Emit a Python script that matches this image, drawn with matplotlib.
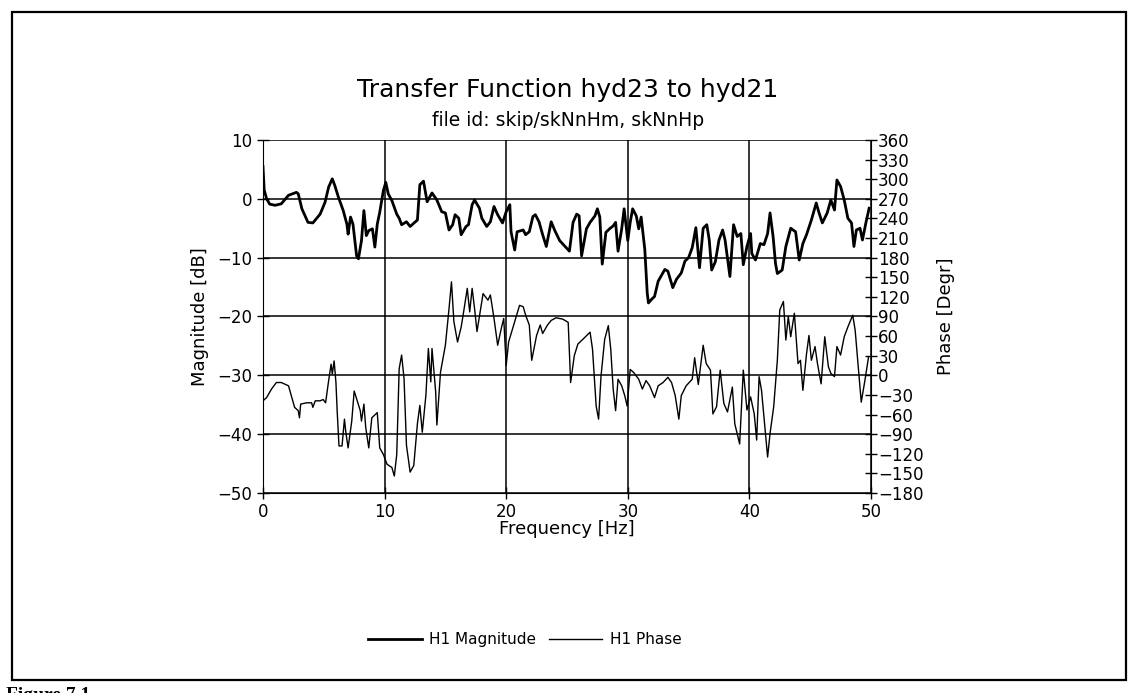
import matplotlib
matplotlib.use("Agg")
import matplotlib.pyplot as plt
from matplotlib.lines import Line2D
from matplotlib.patches import Rectangle

# H1 magnitude [dB]
mag_freq = [0.0, 0.1, 0.3, 0.55, 1.0, 1.5, 2.1, 2.75, 2.9, 3.2, 3.7, 4.1, 4.7, 5.1, 5.4, 5.7,
            5.9, 6.2, 6.6, 6.9, 7.0, 7.2, 7.4, 7.7, 7.85, 8.1, 8.3, 8.5, 8.7, 9.0, 9.2, 9.4,
            9.6, 9.9, 10.1, 10.3, 10.6, 11.0, 11.2, 11.4, 11.8, 12.1, 12.7, 12.9, 13.2, 13.5,
            13.9, 14.3, 14.7, 15.0, 15.3, 15.6, 15.8, 16.1, 16.3, 16.7, 16.9, 17.2, 17.4,
            17.8, 18.0, 18.4, 18.7, 19.0, 19.3, 19.7, 20.0, 20.3, 20.4, 20.7, 20.9, 21.4,
            21.6, 21.9, 22.2, 22.4, 22.7, 23.0, 23.3, 23.7, 24.0, 24.4, 24.8, 25.2, 25.5,
            25.8, 26.0, 26.2, 26.6, 26.9, 27.3, 27.5, 27.7, 27.9, 28.2, 28.5, 28.8, 29.0,
            29.2, 29.5, 29.7, 30.0, 30.2, 30.4, 30.7, 30.9, 31.1, 31.4, 31.6, 31.7, 31.95,
            32.2, 32.5, 32.8, 33.05, 33.3, 33.7, 34.0, 34.4, 34.7, 35.0, 35.3, 35.6, 35.9,
            36.2, 36.5, 36.7, 36.9, 37.2, 37.5, 37.8, 38.0, 38.4, 38.7, 39.0, 39.3, 39.5,
            39.8, 40.1, 40.2, 40.5, 40.9, 41.2, 41.5, 41.7, 41.95, 42.15, 42.3, 42.7, 43.0,
            43.4, 43.8, 44.1, 44.4, 44.7, 45.1, 45.5, 45.7, 46.0, 46.4, 46.7, 47.0, 47.2,
            47.5, 47.8, 48.1, 48.4, 48.6, 48.8, 49.1, 49.3, 49.6, 49.85]
mag_db = [5.5, 1.5, 0.0, -0.9, -1.1, -0.85, 0.6, 1.1, 0.85, -1.7, -4.0, -4.1, -2.6, -0.6, 2.0, 3.4,
          2.3, 0.3, -2.0, -4.3, -6.0, -3.1, -4.3, -9.7, -10.2, -7.1, -2.0, -6.25, -5.4, -5.1,
          -8.2, -4.3, -2.3, 1.4, 2.8, 0.85, -0.3, -2.6, -3.3, -4.4, -3.9, -4.7, -3.6, 2.4, 3.0,
          -0.5, 1.0, -0.2, -2.2, -2.4, -5.3, -4.4, -2.7, -3.3, -6.1, -4.7, -4.4, -1.0, -0.2,
          -1.6, -3.3, -4.7, -3.9, -1.3, -2.7, -4.1, -2.2, -1.0, -5.6, -8.7, -5.6, -5.3, -6.1,
          -5.6, -3.0, -2.7, -3.9, -6.1, -8.1, -3.9, -5.4, -7.1, -8.0, -8.9, -4.0, -2.6, -2.9,
          -9.7, -5.1, -4.0, -2.9, -1.7, -3.1, -11.1, -5.7, -5.1, -4.6, -4.0, -8.9, -5.1, -1.7,
          -7.1, -4.0, -1.7, -2.9, -5.1, -3.1, -8.6, -16.0, -17.7, -17.1, -16.6, -14.0, -12.9,
          -12.0, -12.3, -15.1, -13.7, -12.6, -10.6, -10.0, -8.3, -4.9, -11.7, -5.0, -4.4, -7.0,
          -12.1, -10.7, -7.0, -5.3, -7.0, -13.2, -4.4, -6.4, -5.9, -11.2, -8.1, -5.9, -9.3,
          -10.4, -7.6, -7.8, -5.9, -2.4, -6.4, -11.0, -12.7, -12.1, -8.1, -5.0, -5.6, -10.4,
          -7.6, -6.1, -3.6, -0.7, -2.2, -4.1, -2.4, -0.2, -1.9, 3.2, 2.1, -0.2, -3.3, -4.1,
          -8.1, -5.3, -5.0, -7.0, -3.9, -1.6]

# H1 phase [deg]
ph_freq = [0.0, 0.3, 0.7, 1.1, 1.5, 2.1, 2.3, 2.6, 2.9, 3.0, 3.1, 3.6, 4.0, 4.1, 4.3, 4.7, 4.95,
           5.15, 5.4, 5.6, 5.7, 5.85, 6.0, 6.1, 6.25, 6.5, 6.7, 6.8, 7.0, 7.3, 7.5, 7.8, 8.0,
           8.1, 8.3, 8.45, 8.7, 8.95, 9.4, 9.6, 9.9, 10.2, 10.6, 10.8, 11.0, 11.2, 11.4, 11.6,
           11.8, 12.1, 12.4, 12.7, 12.9, 13.1, 13.4, 13.6, 13.8, 13.9, 14.2, 14.3, 14.6, 15.0,
           15.3, 15.5, 15.7, 16.0, 16.3, 16.5, 16.8, 17.0, 17.2, 17.4, 17.6, 17.9, 18.1, 18.5,
           18.7, 19.0, 19.3, 19.6, 19.8, 20.0, 20.2, 20.7, 21.1, 21.4, 21.6, 21.9, 22.1, 22.5,
           22.8, 23.0, 23.4, 23.7, 24.1, 24.65, 25.1, 25.3, 25.6, 25.9, 26.3, 26.9, 27.1, 27.4,
           27.6, 27.8, 28.1, 28.4, 28.6, 28.8, 29.0, 29.2, 29.5, 29.75, 29.95, 30.2, 30.5, 30.9,
           31.2, 31.5, 31.8, 32.2, 32.5, 32.9, 33.3, 33.6, 33.9, 34.2, 34.4, 34.8, 35.3, 35.5,
           35.8, 36.2, 36.45, 36.8, 37.0, 37.3, 37.6, 37.9, 38.2, 38.6, 38.8, 39.2, 39.5, 39.8,
           40.1, 40.4, 40.6, 40.8, 41.0, 41.3, 41.5, 41.7, 42.0, 42.3, 42.5, 42.8, 43.0, 43.2,
           43.4, 43.7, 44.0, 44.2, 44.4, 44.7, 44.9, 45.1, 45.4, 45.6, 45.9, 46.2, 46.5, 46.7,
           47.0, 47.2, 47.5, 47.8, 48.1, 48.5, 48.7, 49.0, 49.2, 49.5, 49.8]
ph_deg = [-39, -34, -21, -11, -11, -16, -29, -49, -54, -65, -44, -42, -42, -49, -39, -39, -37,
          -42, -8, 17, 2, 22, -11, -54, -108, -108, -67, -85, -111, -70, -24, -42, -54, -70,
          -44, -80, -111, -65, -57, -111, -121, -136, -141, -154, -121, 10, 31, -5, -107,
          -148, -138, -74, -46, -87, -30, 41, -10, 41, -25, -76, 5, 46, 102, 143, 82, 51, 74,
          97, 133, 97, 133, 102, 67, 102, 125, 115, 123, 87, 46, 72, 87, 15, 51, 82, 107, 105,
          92, 77, 23, 61, 77, 64, 77, 84, 88, 86, 81, -11, 30, 48, 55, 66, 40, -47, -67, -1,
          55, 76, 40, -21, -54, -6, -16, -31, -47, 9, 4, -6, -21, -8, -16, -34, -16, -11, -3,
          -11, -31, -67, -31, -16, -6, 27, -14, 46, 18, 8, -59, -48, 8, -43, -56, -18, -74,
          -105, 8, -53, -33, -59, -99, -2, -23, -84, -125, -89, -48, 23, 100, 113, 54, 90, 59,
          95, 18, 23, -23, 33, 61, 23, 44, 18, -13, 59, 13, 3, -2, 44, 31, 59, 74, 92, 69, 3,
          -41, -8, 28]

mag_ticks = [-50, -40, -30, -20, -10, 0, 10]
ph_ticks = list(range(-180, 361, 30))
freq_ticks = [0, 10, 20, 30, 40, 50]

fig = plt.figure(figsize=(11.36, 6.93), dpi=100)
ax = fig.add_axes([0.2315, 0.2886, 0.5352, 0.5094])

ax.plot(mag_freq, mag_db, color='black', lw=2.0)
ax.set_xlim(0, 50)
ax.set_ylim(-50, 10)
ax.set_xticks(freq_ticks)
ax.set_yticks(mag_ticks)
ax.grid(True, color='black', lw=1.1)
ax.tick_params(direction='inout', length=8, width=1, labelsize=12)
ax.set_xlabel('Frequency [Hz]', fontsize=13, labelpad=-1)
ax.set_ylabel('Magnitude [dB]', fontsize=13, labelpad=6)
for s in ['top', 'right']:
    ax.spines[s].set_visible(False)

ax2 = ax.twinx()
ax2.plot(ph_freq, ph_deg, color='black', lw=1.0)
ax2.set_ylim(-180, 360)
ax2.set_yticks(ph_ticks)
ax2.tick_params(direction='inout', length=8, width=1, labelsize=12, pad=1)
ax2.set_ylabel('Phase [Degr]', fontsize=13, labelpad=10)
for s in ['top', 'left', 'bottom']:
    ax2.spines[s].set_visible(False)

fig.text(0.5, 0.870, 'Transfer Function hyd23 to hyd21', ha='center', va='center', fontsize=18)
fig.text(0.5, 0.826, 'file id: skip/skNnHm, skNnHp', ha='center', va='center', fontsize=13.5)

handles = [Line2D([], [], color='black', lw=2.0), Line2D([], [], color='black', lw=1.0)]
fig.legend(handles, ['H1 Magnitude', 'H1 Phase'], loc='center', bbox_to_anchor=(0.462, 0.077),
           ncol=2, frameon=False, fontsize=11, handlelength=3.5, columnspacing=0.8,
           handletextpad=0.5)

# page frame
fig.patches.append(Rectangle((0.011, 0.019), 0.98, 0.963, transform=fig.transFigure,
                             fill=False, edgecolor='black', lw=1.6))
fig.text(0.005, 0.008, 'Figure 7.1', ha='left', va='top', fontsize=14,
         fontweight='bold', family='Liberation Serif')

fig.savefig('out.png', dpi=100)
